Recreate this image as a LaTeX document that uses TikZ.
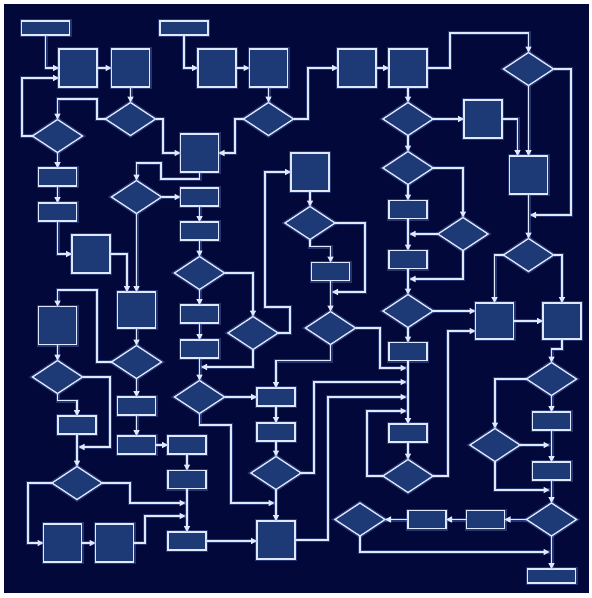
\documentclass[tikz,border=0pt]{standalone}
\usetikzlibrary{shapes.geometric,arrows.meta,calc}
\definecolor{bgc}{RGB}{2,9,58}
\definecolor{boxc}{RGB}{30,58,118}
\definecolor{linec}{RGB}{222,232,255}
\definecolor{glowc}{RGB}{120,150,235}
\begin{document}
\begin{tikzpicture}[x=1pt,y=-1pt,
  glow/.style={preaction={draw=glowc,line width=4pt,opacity=0.3,arrows=-}},
  sq/.style={draw=linec,fill=boxc,line width=1.3pt,minimum width=38pt,minimum height=38pt,inner sep=0pt,outer sep=0pt,glow},
  rb/.style={sq,minimum width=38pt,minimum height=18pt},
  wr/.style={sq,minimum width=48pt,minimum height=14pt},
  dm/.style={diamond,draw=linec,fill=boxc,line width=1.3pt,minimum width=50pt,minimum height=33pt,inner sep=0pt,outer sep=0pt,glow},
  arr/.style={draw=linec,line width=1.5pt,-{Triangle[length=6pt,width=6pt]},glow}
]
\fill[white] (0,0) rectangle (592,598);
\fill[bgc] (4,4) rectangle (589,593);

% nodes
\node[wr] (A1) at (45.5,28) {};
\node[wr] (A2) at (184,28) {};
\node[sq] (B1) at (78,68) {};
\node[sq] (B2) at (130.5,68) {};
\node[sq] (B11) at (217,68) {};
\node[sq] (B12) at (268.5,68) {};
\node[sq] (B10) at (357,68) {};
\node[sq] (B9) at (408,68) {};
\node[dm] (D13) at (528.5,69) {};
\node[dm] (D2) at (130.5,119) {};
\node[dm] (D4) at (268.5,119) {};
\node[dm] (D14) at (408,119) {};
\node[sq] (B13) at (483,119) {};
\node[dm] (D1) at (57.5,136) {};
\node[sq] (B3) at (199.5,153) {};
\node[sq] (B8) at (310,172) {};
\node[dm] (D21) at (408,168) {};
\node[sq] (B14) at (528.5,175) {};
\node[rb] (R1) at (57.5,177) {};
\node[dm] (D5) at (136.5,197) {};
\node[rb] (R3) at (199.5,197) {};
\node[rb] (R16) at (408,209.5) {};
\node[rb] (R2) at (57.5,212) {};
\node[dm] (D12) at (310,223) {};
\node[dm] (D22) at (463,234) {};
\node[rb] (R4) at (199.5,231) {};
\node[sq] (B4) at (91,254) {};
\node[dm] (D15) at (528.5,255) {};
\node[rb] (R17) at (408,259.5) {};
\node[rb] (R10) at (330.5,271.5) {};
\node[dm] (D6) at (199.5,273) {};
\node[sq,minimum height=36pt] (B5) at (136.5,310) {};
\node[sq] (B16) at (57.5,325.5) {};
\node[rb] (R5) at (199.5,314) {};
\node[dm] (D16) at (408,311) {};
\node[sq,minimum height=36pt] (B7) at (494.5,321) {};
\node[sq,minimum height=36pt] (B15) at (562,321) {};
\node[dm] (D9) at (330.5,328) {};
\node[dm] (D7) at (253,333) {};
\node[rb] (R6) at (199.5,349) {};
\node[rb] (R18) at (408,351.5) {};
\node[dm] (D23) at (136.5,362) {};
\node[dm] (D24) at (57.5,377) {};
\node[dm] (D17) at (551.5,379) {};
\node[rb] (R7) at (276,397) {};
\node[dm] (D8) at (199.5,397) {};
\node[rb] (R23) at (136.5,406) {};
\node[rb] (R11) at (551.5,421) {};
\node[rb] (R19) at (77,425) {};
\node[rb] (R8) at (276,432) {};
\node[rb] (R9) at (408,433) {};
\node[rb] (R20) at (187,445) {};
\node[rb] (R24) at (136.5,445) {};
\node[dm] (D18) at (495,445) {};
\node[dm] (D10) at (276,473) {};
\node[dm] (D11) at (408,476) {};
\node[rb] (R12) at (551.5,471) {};
\node[rb] (R21) at (187,479.5) {};
\node[dm] (D25) at (77,483) {};
\node[dm] (D20) at (360,519.5) {};
\node[rb] (R14) at (427,519.5) {};
\node[rb] (R13) at (485.5,519.5) {};
\node[dm] (D19) at (551.5,519.5) {};
\node[sq] (B17) at (62.5,543) {};
\node[sq] (B18) at (114.5,543) {};
\node[rb] (R22) at (187,541) {};
\node[sq] (B6) at (276,540) {};
\node[wr] (R15) at (551.5,576) {};

% junction points
\coordinate (j1) at (530,215);
\coordinate (j2) at (409.5,234);
\coordinate (j3) at (409.5,279);
\coordinate (j4) at (549.5,445);
\coordinate (j5) at (549.5,490);
\coordinate (j6) at (549.5,552);
\coordinate (j7) at (332,292);
\coordinate (j8) at (201,367);
\coordinate (j9) at (406.5,368);
\coordinate (j10) at (406.5,382);
\coordinate (j11) at (406.5,397);
\coordinate (j12) at (406.5,411);
\coordinate (j13) at (274.5,503);
\coordinate (j14) at (185.5,503);
\coordinate (j15) at (185.5,516);
\coordinate (j16) at (78.5,447);

% top left
\draw[arr] (A1.south) |- (B1.west);
\draw[arr] (D1.west) -| (22,78) -- ($(B1.west)+(0,10)$);
\draw[arr] (B1) -- (B2);
\draw[arr] (B2) -- (D2);
\draw[arr] (D2.west) -| (97,99) -| (D1.north);
\draw[arr] (D2.east) -| (163,153) -- (B3.west);
\draw[arr] (A2.south) |- (B11.west);
\draw[arr] (B11) -- (B12);
\draw[arr] (B12) -- (D4);
\draw[arr] (D4.west) -| (235,153) -- (B3.east);
\draw[arr] (D4.east) -| (308,68) -- (B10.west);
\draw[arr] (B10) -- (B9);
\draw[arr] (B9.east) -| (450,33) -| (D13.north);
\draw[arr] (B9) -- (D14);
\draw[arr] (D14) -- (B13);
\draw[arr] (B13.east) -| ($(B14.north)+(-11,0)$);
\draw[arr] (D13.south) -- (B14.north);
\draw[arr] (D13.east) -| (571,215) -- (j1);
\draw[arr] (B14) -- (D15);
\draw[arr] (D15.west) -| (B7.north);
\draw[arr] (D15.east) -| (B15.north);
\draw[arr] (B7) -- (B15);
\draw[arr] (B15.south) -- ++(0,10) -| (D17.north);
\draw[arr] (D17.west) -| (D18.north);
\draw[arr] (D17) -- (R11);
\draw[arr] (R11) -- (R12);
\draw[arr] (D18.east) -- (j4);
\draw[arr] (D18.south) |- (j5);
\draw[arr] (R12) -- (D19);
\draw[arr] (D19) -- (R13);
\draw[arr] (R13) -- (R14);
\draw[arr] (R14) -- (D20);
\draw[arr] (D20.south) |- (j6);
\draw[arr] (D19) -- (R15);

% right middle column
\draw[arr] (D14) -- (D21);
\draw[arr] (D21.east) -| (D22.north);
\draw[arr] (D21) -- (R16);
\draw[arr] (R16) -- (R17);
\draw[arr] (D22.west) -- (j2);
\draw[arr] (D22.south) |- (j3);
\draw[arr] (R17) -- (D16);
\draw[arr] (D16.east) -- (D16.east -| B7.west);
\draw[arr] (D16) -- (R18);
\draw[arr] (R18) -- (R9);
\draw[arr] (R9) -- (D11);
\draw[arr] (D11.east) -| (448,331) -- ($(B7.west)+(0,10)$);
\draw[arr] (D11.west) -| (367,411) -- (j12);
\draw[arr] (D9.east) -| (380,368) -- (j9);
\draw[arr] (D10.east) -| (314,382) -- (j10);
\draw[arr] (B6.east) -| (328,397) -- (j11);

% centre
\draw[arr] (B8) -- (D12);
\draw[arr] (D12.south) -- ++(0,7) -| (R10.north);
\draw[arr] (D12.east) -| (365,292) -- (j7);
\draw[arr] (R10) -- (D9);
\draw[arr] (D9.south) -- ++(0,16) -| (R7.north);
\draw[arr] (D7.east) -| (290,307) -| (265,172) -- (B8.west);
\draw[arr] (D6.east) -| (D7.north);
\draw[arr] (D7.south) |- (j8);
\draw[arr] (R3) -- (R4);
\draw[arr] (R4) -- (D6);
\draw[arr] (D6) -- (R5);
\draw[arr] (R5) -- (R6);
\draw[arr] (R6) -- (D8);
\draw[arr] (D8) -- (R7);
\draw[arr] (R7) -- (R8);
\draw[arr] (R8) -- (D10);
\draw[arr] (D10) -- (B6);
\draw[arr] (D8.south) -- ++(0,11.5) -| (231,503) -- (j13);
\draw[arr] (D5) -- (R3);
\draw[arr] (D5.south) -- (B5.north);
\draw[arr] (B3.south) -- ++(0,7) -| (161,163) -| (D5.north);
\draw[arr] (B4.east) -| ($(B5.north)+(-9.5,0)$);

% left
\draw[arr] (D1) -- (R1);
\draw[arr] (R1) -- (R2);
\draw[arr] (R2.south) |- (B4.west);
\draw[arr] (B5) -- (D23);
\draw[arr] (D23.west) -| (97,290) -| (B16.north);
\draw[arr] (B16) -- (D24);
\draw[arr] (D24.east) -| (110,447) -- (j16);
\draw[arr] (D24.south) -- ++(0,7) -| (R19.north);
\draw[arr] (R19) -- (D25);
\draw[arr] (D25.west) -| (28,543) -- (B17.west);
\draw[arr] (B17) -- (B18);
\draw[arr] (B18.east) -| (145,516) -- (j15);
\draw[arr] (D25.east) -| (130,503) -- (j14);
\draw[arr] (D23) -- (R23);
\draw[arr] (R23) -- (R24);
\draw[arr] (R24) -- (R20);
\draw[arr] (R20) -- (R21);
\draw[arr] (R21) -- (R22);
\draw[arr] (R22.east) -- (R22.east -| B6.west);
\end{tikzpicture}
\end{document}
